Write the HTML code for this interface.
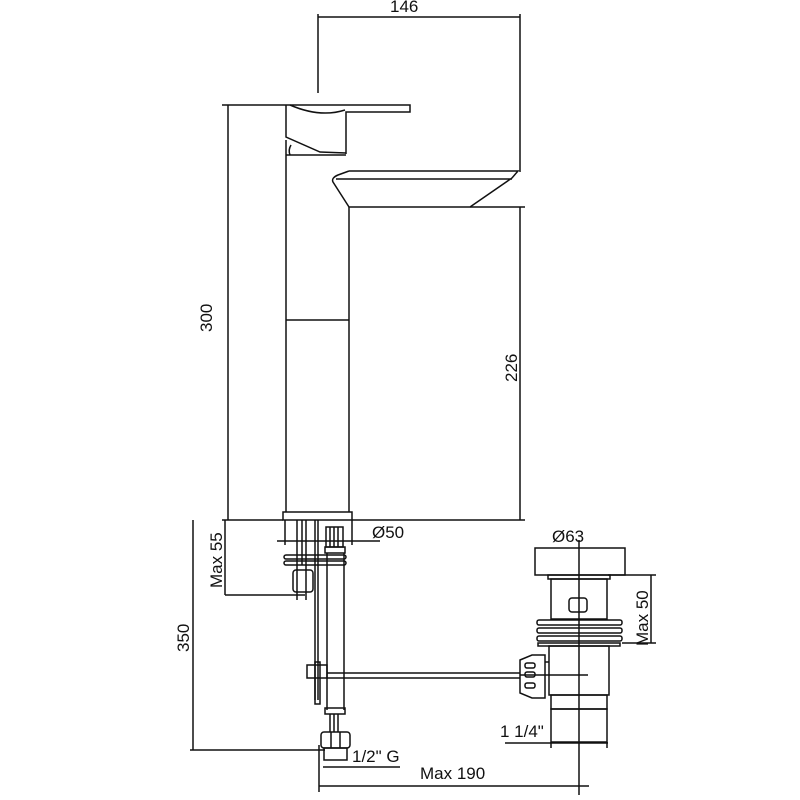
<!DOCTYPE html>
<html><head><meta charset="utf-8"><style>
html,body{margin:0;padding:0;background:#fff;width:800px;height:800px;overflow:hidden}
svg{display:block}
text{font-family:"Liberation Sans",sans-serif;font-size:17px;fill:#111}
</style></head><body>
<svg width="800" height="800" viewBox="0 0 800 800" fill="none" stroke="#111" stroke-width="1.5">
<line x1="318" y1="14" x2="318" y2="93"/>
<line x1="520" y1="14" x2="520" y2="172"/>
<line x1="318" y1="17" x2="520" y2="17"/>
<text x="390" y="12" stroke="none">146</text>
<path d="M286 105 L410 105 L410 112 L346 112 L346 154 M286 105 L286 137 L320 152 L346 153"/>
<path d="M290 105 Q320 118 345 110"/>
<path d="M286 155 L346 155 M286 140 L286 512 M349 207 L349 512"/>
<path d="M291 145 Q288 150 290 155"/>
<line x1="286" y1="320" x2="349" y2="320"/>
<path d="M349 171 L518 171 L512 178 L470 207 L349 207 M349 171 L338 175 Q331 178 333 182 L349 207 M336 179 L512 179"/>
<line x1="222" y1="105" x2="286" y2="105"/>
<line x1="228" y1="105" x2="228" y2="520"/>
<line x1="222" y1="520" x2="283" y2="520"/>
<text transform="translate(212,332) rotate(-90)" stroke="none">300</text>
<line x1="470" y1="207" x2="525" y2="207"/>
<line x1="520" y1="207" x2="520" y2="520"/>
<line x1="352" y1="520" x2="525" y2="520"/>
<text transform="translate(517,382) rotate(-90)" stroke="none">226</text>
<rect x="283" y="512" width="69" height="8"/>
<line x1="225" y1="520" x2="225" y2="595"/>
<line x1="225" y1="595" x2="305" y2="595"/>
<text transform="translate(222,588) rotate(-90)" stroke="none">Max 55</text>
<line x1="193" y1="520" x2="193" y2="750"/>
<line x1="190" y1="750" x2="325" y2="750"/>
<text transform="translate(189,652) rotate(-90)" stroke="none">350</text>
<line x1="277" y1="541" x2="380" y2="541"/>
<line x1="285" y1="520" x2="285" y2="545"/>
<line x1="352" y1="520" x2="352" y2="545"/>
<text x="372" y="538" stroke="none">Ø50</text>
<line x1="297" y1="520" x2="297" y2="600"/>
<line x1="302" y1="520" x2="302" y2="565"/>
<line x1="306" y1="520" x2="306" y2="600"/>
<line x1="315" y1="520" x2="315" y2="700"/>
<line x1="318" y1="520" x2="318" y2="700"/>
<rect x="315" y="662" width="5" height="42"/>
<rect x="307" y="665" width="20" height="13"/>
<rect x="326" y="527" width="17" height="20"/>
<line x1="330" y1="527" x2="330" y2="547"/><line x1="334" y1="527" x2="334" y2="547"/><line x1="338" y1="527" x2="338" y2="547"/>
<rect x="325" y="547" width="20" height="6"/>
<line x1="327" y1="553" x2="327" y2="710"/>
<line x1="344" y1="553" x2="344" y2="710"/>
<rect x="284" y="555" width="62" height="4" rx="2"/>
<rect x="284" y="561" width="62" height="4" rx="2"/>
<rect x="293" y="570" width="20" height="22" rx="3"/>
<rect x="325" y="708" width="20" height="6"/>
<line x1="330" y1="714" x2="330" y2="732"/><line x1="334" y1="714" x2="334" y2="732"/><line x1="338" y1="714" x2="338" y2="732"/>
<rect x="321" y="732" width="29" height="16" rx="3"/>
<line x1="331" y1="732" x2="331" y2="748"/><line x1="340" y1="732" x2="340" y2="748"/>
<rect x="324" y="748" width="23" height="12"/>
<line x1="327" y1="673" x2="520" y2="673"/>
<line x1="327" y1="678" x2="520" y2="678"/>
<line x1="323" y1="767" x2="400" y2="767"/>
<text x="352" y="762" stroke="none">1/2" G</text>
<line x1="319" y1="745" x2="319" y2="792"/>
<line x1="319" y1="786" x2="589" y2="786"/>
<text x="420" y="779" stroke="none">Max 190</text>
<rect x="535" y="548" width="90" height="27"/>
<rect x="548" y="575" width="62" height="4"/>
<rect x="551" y="579" width="56" height="40"/>
<rect x="569" y="598" width="18" height="14" rx="3"/>
<rect x="537" y="620" width="85" height="5" rx="2"/>
<rect x="537" y="628" width="85" height="5" rx="2"/>
<rect x="537" y="636" width="85" height="5" rx="2"/>
<rect x="538" y="643" width="82" height="3"/>
<rect x="549" y="646" width="60" height="49"/>
<rect x="551" y="695" width="56" height="14"/>
<rect x="551" y="709" width="56" height="33"/>
<path d="M520 660 L532 655 L545 655 L545 698 L532 698 L520 693 Z"/>
<rect x="525" y="663" width="10" height="5" rx="2"/>
<rect x="525" y="672" width="10" height="5" rx="2"/>
<rect x="525" y="683" width="10" height="5" rx="2"/>
<line x1="545" y1="662" x2="549" y2="662"/>
<line x1="520" y1="675" x2="588" y2="675"/>
<line x1="579" y1="540" x2="579" y2="795"/>
<text x="552" y="542" stroke="none">Ø63</text>
<line x1="608" y1="575" x2="656" y2="575"/>
<line x1="622" y1="643" x2="656" y2="643"/>
<line x1="651" y1="575" x2="651" y2="643"/>
<text transform="translate(648,646) rotate(-90)" stroke="none">Max 50</text>
<line x1="505" y1="743" x2="608" y2="743"/>
<text x="500" y="737" stroke="none">1 1/4"</text>
<line x1="551" y1="742" x2="551" y2="748"/>
<line x1="607" y1="742" x2="607" y2="748"/>
</svg>
</body></html>
